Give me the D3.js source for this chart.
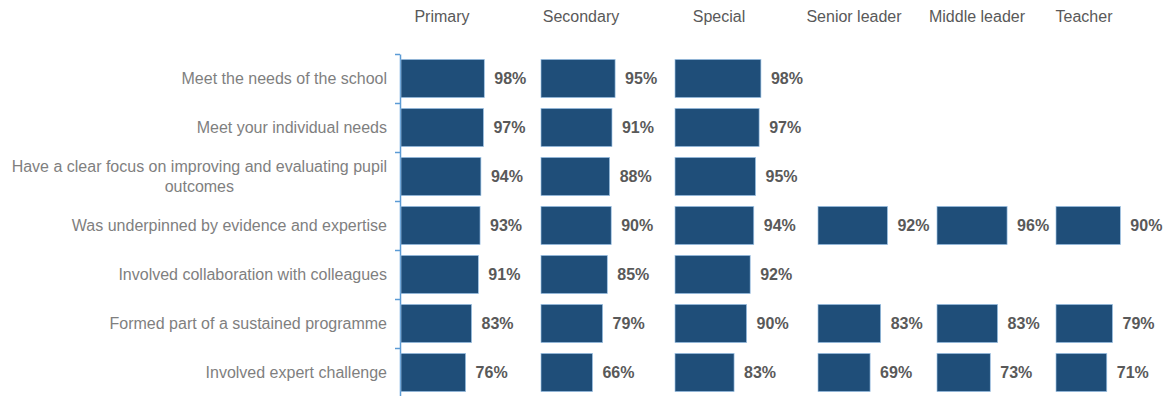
<!DOCTYPE html>
<html>
<head>
<meta charset="utf-8">
<style>
  body { margin: 0; background: #fff; }
  svg { display: block; font-family: "Liberation Sans", Arial, sans-serif; }
  .axis path, .axis line { stroke: #5b9bd5; stroke-width: 1.5; fill: none; }
  .cat { fill: #7f7f7f; font-size: 16px; }
  .head { fill: #595959; font-size: 16px; }
  .val { fill: #595959; font-size: 16px; font-weight: bold; }
</style>
</head>
<body>
<script src="https://d3js.org/d3.v7.min.js"></script>
<script>

// data
var categories = [
  "Meet the needs of the school",
  "Meet your individual needs",
  "Have a clear focus on improving and evaluating pupil|outcomes",
  "Was underpinned by evidence and expertise",
  "Involved collaboration with colleagues",
  "Formed part of a sustained programme",
  "Involved expert challenge"
];
var groups = ["Primary", "Secondary", "Special", "Senior leader", "Middle leader", "Teacher"];
var primary      = [98, 97, 94, 93, 91, 83, 76];
var secondary    = [95, 91, 88, 90, 85, 79, 66];
var special      = [98, 97, 95, 94, 92, 90, 83];
var seniorLeader = [null, null, null, 92, null, 83, 69];
var middleLeader = [null, null, null, 96, null, 83, 73];
var teacher      = [null, null, null, 90, null, 79, 71];
var series = [primary, secondary, special, seniorLeader, middleLeader, teacher];

// panel layout (left edge, width of the 100% mark, axis minimum, header centre)
var panels = [
  {x: 401, w: 85, min: 0, hx: 442},
  {x: 541, w: 78, min: 0, hx: 581},
  {x: 675, w: 89.5, min: 50, hx: 719},
  {x: 818, w: 75.5, min: 0, hx: 854},
  {x: 937, w: 73, min: 0, hx: 977},
  {x: 1056, w: 71.5, min: 0, hx: 1084}
];

var width = 1168, height = 396;
var plotTop = 54, step = 49;

var svg = d3.select("body").append("svg")
    .attr("width", width)
    .attr("height", height);

var y = d3.scaleBand()
    .domain(d3.range(categories.length))
    .range([plotTop, plotTop + step * categories.length])
    .paddingInner(0.22)
    .paddingOuter(0.11);

// axis with ticks at the category boundaries
var yEdge = d3.scaleLinear().domain([0, categories.length]).range([plotTop, plotTop + step * categories.length]);
svg.append("g")
    .attr("class", "axis")
    .attr("transform", "translate(400,0)")
    .call(d3.axisLeft(yEdge).tickValues(d3.range(categories.length + 1)).tickSize(5).tickSizeOuter(0).tickFormat(""));

// category labels
categories.forEach(function(c, i) {
  var lines = c.split("|");
  var cy = y(i) + y.bandwidth() / 2;
  if (lines.length == 1) {
    svg.append("text").attr("class", "cat")
      .attr("x", 387).attr("y", cy).attr("dy", "0.35em")
      .attr("text-anchor", "end").text(c);
  } else {
    var t1 = svg.append("text").attr("class", "cat")
      .attr("x", 387).attr("y", cy - 10).attr("dy", "0.35em")
      .attr("text-anchor", "end").text(lines[0]);
    var w1 = t1.node().getComputedTextLength();
    svg.append("text").attr("class", "cat")
      .attr("x", 387 - w1 / 2).attr("y", cy + 10).attr("dy", "0.35em")
      .attr("text-anchor", "middle").text(lines[1]);
  }
});

// panels
groups.forEach(function(g, k) {
  var p = panels[k];
  var x = d3.scaleLinear().domain([p.min, 100]).range([p.x, p.x + p.w]);

  svg.append("text").attr("class", "head")
    .attr("x", p.hx).attr("y", 22)
    .attr("text-anchor", "middle").text(g);

  var data = series[k].map(function(v, i) { return {i: i, v: v}; })
    .filter(function(d) { return d.v != null; });

  svg.selectAll(null).data(data).enter().append("rect")
    .attr("x", x(p.min))
    .attr("y", function(d) { return y(d.i); })
    .attr("width", function(d) { return x(d.v) - x(p.min); })
    .attr("height", y.bandwidth())
    .style("fill", "#1f4e79")
    .style("stroke", "#9dc3e6")
    .style("stroke-width", 0.7);

  svg.selectAll(null).data(data).enter().append("text")
    .attr("class", "val")
    .attr("x", function(d) { return x(d.v) + 10; })
    .attr("y", function(d) { return y(d.i) + y.bandwidth() / 2; })
    .attr("dy", "0.35em")
    .text(function(d) { return d.v + "%"; });
});

</script>
</body>
</html>
